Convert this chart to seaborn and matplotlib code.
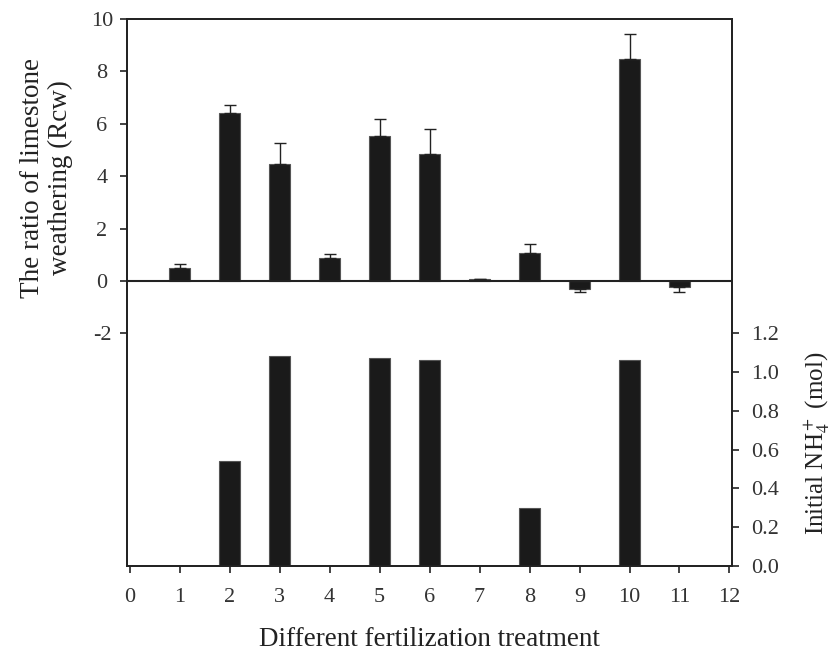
import numpy as np
import pandas as pd
import seaborn as sns
import matplotlib.pyplot as plt

# Datos
tratamientos = [1, 2, 3, 4, 5, 6, 7, 8, 9, 10, 11]
rcw = [0.50, 6.41, 4.47, 0.87, 5.54, 4.85, 0.06, 1.07, -0.30, 8.47, -0.23]
rcw_err = [0.15, 0.29, 0.79, 0.16, 0.65, 0.95, 0.0, 0.34, 0.12, 0.96, 0.19]
nh4 = [0.0, 0.54, 1.08, 0.0, 1.07, 1.06, 0.0, 0.30, 0.0, 1.06, 0.0]

ticks_x = list(range(0, 13))
ticks_izq = [-2, 0, 2, 4, 6, 8, 10]
ticks_der = [0.0, 0.2, 0.4, 0.6, 0.8, 1.0, 1.2]

sns.set_style("ticks")
plt.rcParams['font.family'] = ['Liberation Serif', 'DejaVu Serif']
plt.rcParams['mathtext.fontset'] = 'stix'

df = pd.DataFrame({"trat": tratamientos, "rcw": rcw, "err": rcw_err, "nh4": nh4})

fig = plt.figure(figsize=(8.38, 6.55), dpi=100)
ax = fig.add_axes([0.1516, 0.1359, 0.7219, 0.8351])

barra = dict(color="#1a1a1a", saturation=1, edgecolor="#555555", linewidth=0.8, width=0.42)

# Barras superiores (Rcw) con barras de error de un solo lado
sns.barplot(data=df, x="trat", y="rcw", ax=ax, native_scale=True, errorbar=None, **barra)
err = np.array(rcw_err)
vals = np.array(rcw)
abajo = np.where(vals < 0, err, 0)
arriba = np.where(vals >= 0, err, 0)
ax.errorbar(tratamientos, rcw, yerr=[abajo, arriba], fmt="none", ecolor="#222222",
            elinewidth=1.0, capsize=4.5, capthick=1.0)
ax.axhline(0, color="#222222", lw=1.5, zorder=5)

ax.set_ylim(-10.88, 10)
ax.set_yticks(ticks_izq)
ax.set_yticklabels([str(t) for t in ticks_izq], ha="center")

# Barras inferiores (NH4+) en eje derecho
ax2 = ax.twinx()
sns.barplot(data=df, x="trat", y="nh4", ax=ax2, native_scale=True, errorbar=None, **barra)
ax2.set_ylim(0, 2.82)
ax2.set_yticks(ticks_der)
ax2.set_yticklabels([f"{t:.1f}" for t in ticks_der])

ax.set_xlim(-0.05, 12.05)
ax.set_xticks(ticks_x)
ax.set_xticklabels([str(t) for t in ticks_x])

for a in (ax, ax2):
    for s in a.spines.values():
        s.set_visible(True)
        s.set_linewidth(1.3)
        s.set_color("#222222")
    a.tick_params(direction="out", length=5, width=1.2, labelsize=16, colors="#222222",
                  labelcolor="#333333")
ax.tick_params(axis="x", pad=11)
ax.tick_params(axis="y", pad=13)
ax2.tick_params(axis="y", pad=9)

ax.set_xlabel("Different fertilization treatment", fontsize=19.5, color="#222222", labelpad=14)
ax.set_ylabel("The ratio of limestone\nweathering (Rcw)", fontsize=19.5, color="#222222",
              linespacing=1.15)
ax.yaxis.set_label_coords(-0.09, 0.71)
ax2.set_ylabel("Initial NH$_4^+$ (mol)", fontsize=18, color="#222222")
ax2.yaxis.set_label_coords(1.115, 0.225)

fig.savefig("out.png", dpi=100)
